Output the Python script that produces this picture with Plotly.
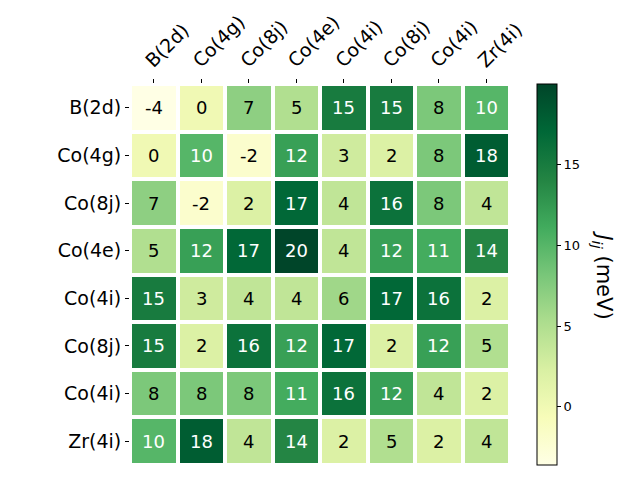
import plotly.graph_objects as go

labels = ["B(2d)", "Co(4g)", "Co(8j)", "Co(4e)", "Co(4i)", "Co(8j)", "Co(4i)", "Zr(4i)"]
values = [
    [-4, 0, 7, 5, 15, 15, 8, 10],
    [0, 10, -2, 12, 3, 2, 8, 18],
    [7, -2, 2, 17, 4, 16, 8, 4],
    [5, 12, 17, 20, 4, 12, 11, 14],
    [15, 3, 4, 4, 6, 17, 16, 2],
    [15, 2, 16, 12, 17, 2, 12, 5],
    [8, 8, 8, 11, 16, 12, 4, 2],
    [10, 18, 4, 14, 2, 5, 2, 4],
]
zmin, zmax = -3.6, 20.0
idx = list(range(len(labels)))

fig = go.Figure()
fig.add_trace(go.Heatmap(
    z=values, x=idx, y=idx, colorscale="YlGn", zmin=zmin, zmax=zmax,
    xgap=4, ygap=4, hoverinfo="skip",
    colorbar=dict(
        x=1.071, xanchor="left", xref="paper", xpad=0, ypad=0,
        thickness=20, thicknessmode="pixels", len=1.0, lenmode="fraction",
        y=0.5, yanchor="middle", outlinecolor="black", outlinewidth=1,
        tickvals=[0, 5, 10, 15], ticks="outside", ticklen=4, tickcolor="black",
        tickfont=dict(family="DejaVu Sans", size=13, color="black"),
    ),
))

thr = (zmax + zmin) / 2
for i, row in enumerate(values):
    for j, v in enumerate(row):
        fig.add_annotation(
            x=j, y=i, text=str(v), showarrow=False,
            font=dict(family="DejaVu Sans", size=18, color="white" if v > thr else "black"),
        )

fig.add_annotation(
    x=1.245, y=0.5, xref="paper", yref="paper", xanchor="center", yanchor="middle",
    text="<i>J</i><sub><i>ij</i></sub> (meV)",
    textangle=90, showarrow=False, font=dict(family="DejaVu Sans", size=21, color="black"),
)

fig.update_xaxes(
    side="top", tickvals=idx, ticktext=labels, tickangle=-45, ticks="outside", ticklen=4,
    tickcolor="black", showgrid=False, zeroline=False, showline=False,
    tickfont=dict(family="DejaVu Sans", size=19, color="black"), range=[-0.5, 7.5],
    ticklabelshift=-7,
)
fig.update_yaxes(
    tickvals=idx, ticktext=labels, ticks="outside", ticklen=4, tickcolor="black",
    showgrid=False, zeroline=False, showline=False, range=[7.5, -0.5],
    tickfont=dict(family="DejaVu Sans", size=19, color="black"),
)
fig.update_layout(
    width=640, height=480, margin=dict(l=130, r=130, t=84, b=15),
    plot_bgcolor="white", paper_bgcolor="white", showlegend=False,
)
fig.write_html("out.html")
